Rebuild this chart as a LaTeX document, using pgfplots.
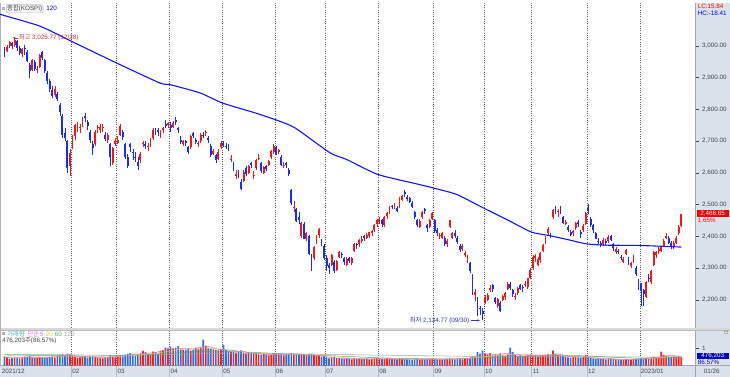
\documentclass[border=0pt]{standalone}
\usepackage{pgfplots}
\pgfplotsset{compat=1.18}
\usepackage{pgfplotstable}
\usetikzlibrary{arrows.meta}
\usepackage{fontspec}
\setmainfont{Liberation Sans}
\newfontfamily\kr{Noto Sans CJK KR}
\definecolor{upc}{RGB}{235,25,25}
\definecolor{dnc}{RGB}{25,45,235}
\definecolor{vup}{RGB}{235,35,35}
\definecolor{vdn}{RGB}{50,110,215}
\definecolor{strip}{RGB}{218,226,236}
\definecolor{gridc}{RGB}{95,95,95}
\definecolor{ma}{RGB}{20,20,235}
\definecolor{lbl}{RGB}{70,70,70}
\definecolor{hic}{RGB}{200,50,50}
\definecolor{loc}{RGB}{50,50,200}
\definecolor{m5}{RGB}{215,110,215}
\definecolor{m20}{RGB}{225,200,80}
\definecolor{m60}{RGB}{80,170,100}
\definecolor{m120}{RGB}{165,165,165}
\definecolor{vlc}{RGB}{70,170,190}

\pgfplotstableread{
i o h l c v
0 2992 2996 2965 2984 520
1 2985 3002 2980 2998 480
2 3000 3015 2995 3012 400
3 3010 3012 2990 3000 430
4 3002 3026 2998 3020 470
5 3015 3018 2985 2993 460
6 2995 3000 2970 2978 420
7 2975 2994 2965 2989 440
8 2992 3003 2971 2989 520
9 2980 2986 2948 2954 500
10 2940 2945 2900 2921 560
11 2925 2960 2920 2955 480
12 2950 2955 2920 2927 470
13 2925 2937 2915 2927 450
14 2935 2975 2930 2972 500
15 2980 2985 2955 2962 470
16 2955 2960 2915 2922 440
17 2915 2920 2880 2890 460
18 2890 2895 2855 2864 490
19 2860 2875 2835 2842 520
20 2845 2875 2840 2863 470
21 2850 2855 2825 2834 560
22 2815 2820 2780 2792 610
23 2780 2785 2710 2720 650
24 2725 2740 2700 2709 600
25 2700 2705 2600 2614 700
26 2620 2675 2591 2663 640
27 2680 2720 2675 2708 560
28 2715 2755 2705 2750 520
29 2745 2760 2730 2745 470
30 2740 2755 2725 2746 480
31 2755 2775 2745 2769 560
32 2780 2790 2760 2772 540
33 2760 2765 2735 2748 470
34 2730 2735 2695 2704 510
35 2690 2700 2655 2677 540
36 2690 2735 2685 2730 500
37 2740 2750 2725 2745 450
38 2735 2755 2725 2744 430
39 2740 2755 2730 2744 420
40 2720 2730 2700 2707 480
41 2705 2725 2695 2720 460
42 2690 2695 2620 2649 600
43 2630 2680 2625 2677 520
44 2690 2710 2685 2699 480
45 2695 2715 2690 2704 560
46 2720 2755 2715 2747 600
47 2730 2735 2705 2713 540
48 2690 2695 2645 2651 640
49 2650 2660 2615 2622 680
50 2690 2695 2665 2680 720
51 2665 2675 2640 2661 600
52 2650 2665 2635 2646 560
53 2635 2650 2610 2622 620
54 2640 2665 2630 2659 700
55 2690 2700 2680 2695 850
56 2690 2700 2675 2686 800
57 2680 2695 2670 2686 700
58 2690 2710 2680 2708 650
59 2710 2740 2705 2735 820
60 2735 2742 2720 2730 780
61 2735 2740 2715 2730 700
62 2720 2735 2710 2730 860
63 2735 2745 2725 2741 900
64 2755 2765 2740 2747 1050
65 2750 2760 2740 2758 1000
66 2752 2760 2730 2740 1100
67 2745 2762 2740 2758 1000
68 2765 2775 2750 2759 1050
69 2740 2745 2725 2735 1130
70 2705 2715 2690 2696 950
71 2690 2705 2685 2700 900
72 2700 2705 2685 2693 920
73 2680 2685 2660 2667 980
74 2680 2720 2675 2716 870
75 2725 2730 2710 2717 900
76 2705 2710 2690 2696 1040
77 2690 2700 2680 2693 950
78 2700 2725 2695 2719 1050
79 2720 2730 2710 2719 1500
80 2725 2735 2715 2728 1150
81 2710 2715 2695 2705 1050
82 2685 2690 2650 2657 980
83 2660 2675 2655 2668 950
84 2655 2660 2630 2639 900
85 2645 2675 2640 2667 880
86 2680 2700 2675 2695 900
87 2695 2700 2680 2687 1200
88 2685 2695 2675 2680 900
89 2680 2690 2670 2678 850
90 2640 2655 2635 2645 800
91 2630 2635 2605 2611 780
92 2590 2610 2580 2597 750
93 2600 2610 2585 2592 820
94 2570 2580 2546 2550 880
95 2575 2610 2570 2604 760
96 2615 2620 2590 2597 700
97 2600 2625 2595 2620 780
98 2630 2635 2615 2626 720
99 2590 2605 2580 2592 680
100 2615 2645 2610 2639 700
101 2645 2660 2640 2647 650
102 2630 2635 2600 2606 620
103 2600 2620 2595 2617 700
104 2620 2625 2605 2612 640
105 2625 2640 2620 2638 600
106 2650 2672 2645 2670 620
107 2665 2690 2660 2686 680
108 2680 2685 2655 2659 700
109 2665 2675 2660 2671 620
110 2650 2655 2620 2626 640
111 2620 2635 2615 2626 600
112 2630 2635 2615 2625 650
113 2610 2615 2590 2596 700
114 2545 2550 2500 2505 720
115 2490 2510 2475 2493 680
116 2485 2490 2445 2447 700
117 2460 2475 2440 2451 660
118 2400 2445 2395 2441 640
119 2440 2445 2390 2391 620
120 2390 2415 2385 2409 600
121 2400 2405 2340 2343 680
122 2335 2345 2290 2314 700
123 2330 2370 2325 2367 620
124 2380 2405 2375 2402 580
125 2405 2425 2395 2422 560
126 2385 2390 2370 2378 520
127 2370 2375 2325 2333 600
128 2330 2340 2290 2305 480
129 2310 2315 2280 2300 420
130 2310 2345 2305 2342 450
131 2320 2325 2285 2292 500
132 2295 2325 2290 2321 430
133 2335 2355 2330 2351 440
134 2345 2350 2330 2340 400
135 2330 2335 2310 2318 380
136 2310 2335 2305 2329 420
137 2330 2335 2315 2322 390
138 2315 2335 2310 2331 370
139 2355 2380 2350 2375 410
140 2375 2380 2360 2371 400
141 2375 2390 2365 2387 420
142 2385 2400 2380 2393 380
143 2400 2405 2385 2394 390
144 2395 2410 2390 2404 400
145 2400 2415 2395 2413 360
146 2410 2420 2400 2416 380
147 2420 2440 2415 2435 420
148 2440 2455 2430 2452 440
149 2445 2460 2440 2452 420
150 2450 2455 2430 2440 380
151 2435 2465 2430 2461 400
152 2465 2475 2455 2473 430
153 2475 2495 2470 2491 450
154 2497 2500 2485 2493 380
155 2490 2505 2485 2503 400
156 2490 2495 2475 2481 360
157 2490 2525 2488 2524 420
158 2515 2530 2510 2528 400
159 2540 2545 2525 2534 380
160 2525 2530 2510 2516 360
161 2520 2525 2505 2508 340
162 2505 2510 2490 2493 330
163 2475 2480 2455 2462 380
164 2450 2455 2430 2435 400
165 2430 2455 2425 2447 370
166 2460 2480 2455 2477 390
167 2485 2490 2470 2481 360
168 2435 2440 2415 2427 380
169 2430 2455 2425 2451 400
170 2455 2475 2450 2472 410
171 2450 2455 2410 2416 380
172 2420 2425 2400 2409 360
173 2400 2410 2390 2404 370
174 2395 2415 2390 2410 350
175 2395 2400 2370 2376 380
176 2375 2390 2365 2384 400
177 2430 2450 2425 2450 420
178 2395 2415 2390 2411 390
179 2410 2420 2395 2402 370
180 2395 2400 2375 2383 400
181 2370 2375 2350 2356 380
182 2360 2375 2355 2368 360
183 2340 2355 2335 2347 400
184 2325 2340 2315 2332 420
185 2315 2320 2285 2290 460
186 2275 2280 2215 2221 520
187 2215 2235 2195 2224 480
188 2205 2210 2150 2169 780
189 2175 2180 2151 2171 700
190 2165 2175 2135 2155 870
191 2190 2215 2185 2209 700
192 2200 2220 2195 2215 650
193 2230 2245 2225 2238 720
194 2245 2250 2225 2233 600
195 2205 2210 2185 2192 640
196 2180 2205 2175 2202 620
197 2190 2195 2160 2163 700
198 2200 2215 2195 2213 600
199 2210 2225 2200 2220 580
200 2235 2255 2230 2250 640
201 2250 2255 2230 2237 1040
202 2230 2235 2210 2218 800
203 2210 2220 2200 2213 620
204 2220 2240 2215 2236 560
205 2245 2250 2230 2235 600
206 2240 2245 2225 2236 540
207 2245 2260 2240 2251 560
208 2240 2270 2235 2268 600
209 2270 2300 2265 2294 650
210 2300 2340 2295 2335 600
211 2330 2345 2320 2337 560
212 2310 2335 2305 2329 520
213 2325 2350 2315 2348 580
214 2355 2375 2350 2372 600
215 2380 2400 2375 2399 620
216 2410 2430 2405 2424 650
217 2405 2410 2395 2402 560
218 2460 2485 2455 2483 870
219 2490 2495 2470 2475 700
220 2475 2485 2460 2480 620
221 2490 2495 2470 2477 580
222 2460 2465 2440 2443 560
223 2440 2450 2435 2444 500
224 2430 2435 2415 2420 480
225 2415 2420 2400 2405 460
226 2410 2420 2400 2417 500
227 2425 2445 2420 2441 520
228 2445 2450 2430 2438 480
229 2415 2420 2395 2408 460
230 2420 2440 2415 2433 500
231 2440 2475 2435 2473 620
232 2490 2501 2470 2480 480
233 2455 2460 2430 2434 440
234 2435 2440 2410 2419 420
235 2410 2415 2390 2393 400
236 2385 2395 2375 2383 430
237 2380 2385 2365 2371 400
238 2375 2395 2370 2389 380
239 2385 2390 2370 2380 360
240 2385 2405 2380 2399 400
241 2400 2405 2385 2389 420
242 2375 2380 2355 2362 380
243 2350 2365 2345 2360 360
244 2355 2360 2345 2352 340
245 2335 2340 2325 2333 320
246 2320 2335 2315 2328 330
247 2345 2360 2340 2357 380
248 2330 2335 2310 2314 350
249 2305 2320 2300 2317 340
250 2320 2340 2315 2333 380
251 2300 2305 2275 2280 400
252 2260 2265 2230 2236 420
253 2250 2254 2181 2226 420
254 2230 2235 2180 2219 400
255 2210 2260 2205 2256 440
256 2270 2280 2255 2265 430
257 2255 2295 2250 2290 460
258 2310 2355 2305 2350 520
259 2340 2355 2330 2351 500
260 2355 2365 2345 2360 480
261 2355 2370 2350 2365 820
262 2370 2390 2365 2386 620
263 2395 2410 2390 2400 560
264 2395 2400 2375 2379 520
265 2380 2385 2360 2368 500
266 2365 2385 2360 2380 540
267 2380 2400 2375 2395 520
268 2410 2435 2405 2429 560
269 2432 2470 2430 2469 476
}\kospi

\pgfplotstableread{
i m
-1.7 3100
-1.0 3098
14.2 3062
26.5 3015
44.6 2946
61.8 2883
65.8 2878
77.7 2852
86.6 2820
99.6 2789
107.5 2768
115.4 2742
129.4 2663
136 2642
148.3 2595
162.3 2568
170.1 2553
179.7 2532
188.9 2495
200.8 2448
209.5 2413
216.7 2402
224.7 2388
231.3 2376
239.2 2372
252.5 2371
269 2366
}\maline

\pgfplotstableread{
i a b c d
0 470 520 620 650
5 450 500 610 650
10 500 510 600 645
15 470 500 590 640
20 500 520 580 635
25 640 560 570 630
30 520 540 560 620
35 500 520 555 610
40 450 500 560 600
45 540 520 570 600
50 620 600 600 610
55 700 640 630 620
60 760 720 660 630
65 950 820 700 640
70 1000 940 760 660
75 950 1000 800 680
80 1150 1020 830 700
85 950 960 840 710
90 900 880 830 715
95 800 800 800 715
100 700 720 760 710
105 640 680 730 700
110 640 660 690 690
115 680 650 660 680
120 620 640 630 670
125 600 620 600 660
130 460 540 570 650
135 410 460 540 640
140 400 410 510 630
145 390 400 480 620
150 400 395 450 610
155 400 390 430 600
160 370 385 410 590
165 380 380 400 580
170 390 385 395 570
175 380 385 395 560
180 390 390 400 550
185 430 420 420 540
190 700 500 450 535
195 650 580 480 530
200 720 640 510 530
205 620 660 540 530
210 580 620 560 530
215 600 620 580 530
220 680 630 590 530
225 520 580 590 530
230 490 520 570 525
235 430 460 540 520
240 390 420 500 515
245 350 380 470 510
250 360 370 440 505
255 420 400 430 500
260 500 450 440 500
265 600 520 450 500
269 530 540 460 500
}\volma

\newcommand{\sz}{\fontsize{6.3}{7}\selectfont}
\pgfplotsset{
  candle/.style 2 args={draw=none, mark=none, forget plot,
    error bars/y dir=plus, error bars/y explicit, error bars/error mark=none,
    error bars/error bar style={draw=#1, line width=#2, solid}},
}

\begin{document}
\begin{tikzpicture}[x=1pt,y=1pt]
\fill[white] (0,0) rectangle (730,374);
\fill[strip] (696,0) rectangle (730,374);
\fill[strip] (0,0) rectangle (730,11);
\draw[gray!70, line width=0.4pt] (696,0) -- (696,374);
\draw[gray!70, line width=0.4pt] (0,11) -- (730,11);
\fill[gray!30] (0,46) rectangle (730,48.6);
\draw[gray!55, line width=0.5pt] (0,46) -- (730,46);
\draw[gray!60, line width=0.5pt] (0.25,11) -- (0.25,374);

\begin{axis}[
  at={(0pt,49pt)}, anchor=south west, scale only axis,
  width=696pt, height=325pt,
  xmin=-1.708, xmax=274.7, ymin=2111.8, ymax=3135.4,
  axis line style={draw=none},
  xtick={26.5,44.5,65.5,86.5,107.5,127.5,148.5,170.5,190.5,209.5,231.5,252.5},
  xticklabels={},
  major x tick style={draw=none},
  xmajorgrids,
  grid style={gridc, dash pattern=on 1pt off 1.3pt, line width=0.45pt},
  ytick={2200,2300,...,3000},
  ytick pos=right, yticklabel pos=right,
  tick align=outside, major tick length=3pt,
  major y tick style={lbl, line width=0.4pt},
  yticklabel style={font=\sz, text=lbl, /pgf/number format/fixed, /pgf/number format/fixed zerofill, /pgf/number format/precision=2, /pgf/number format/1000 sep={,}, /pgf/number format/assume math mode=true},
  unbounded coords=discard,
]
\addplot[candle={upc}{0.7pt}]
  table[x=i, y expr={\thisrow{c}>=\thisrow{o} ? \thisrow{l} : nan}, y error plus expr={\thisrow{h}-\thisrow{l}}] {\kospi};
\addplot[candle={dnc}{0.7pt}]
  table[x=i, y expr={\thisrow{c}<\thisrow{o} ? \thisrow{l} : nan}, y error plus expr={\thisrow{h}-\thisrow{l}}] {\kospi};
\addplot[candle={upc}{1.9pt}]
  table[x=i, y expr={\thisrow{c}>=\thisrow{o} ? \thisrow{o} : nan}, y error plus expr={\thisrow{c}-\thisrow{o}}] {\kospi};
\addplot[candle={dnc}{1.9pt}]
  table[x=i, y expr={\thisrow{c}<\thisrow{o} ? \thisrow{c} : nan}, y error plus expr={\thisrow{o}-\thisrow{c}}] {\kospi};
\addplot[ma, line width=1.1pt, mark=none, smooth, tension=0.35] table[x=i, y=m] {\maline};

\node[anchor=west, font=\sz, text=hic, inner sep=0pt] at (axis cs:5.6,3025.77) {{\kr 최고} 3,025.77 (12/28)};
\draw[-{Stealth[length=2.5pt,width=2.5pt]}, hic, line width=0.5pt] (axis cs:5.4,3025.77) -- (axis cs:3.4,3025.77);
\node[anchor=east, font=\sz, text=loc, inner sep=0pt] at (axis cs:184.8,2134.77) {{\kr 최저} 2,134.77 (09/30)};
\draw[-{Stealth[length=2.5pt,width=2.5pt]}, loc, line width=0.5pt] (axis cs:185.3,2134.77) -- (axis cs:188.9,2134.77);
\end{axis}

\begin{axis}[
  at={(0pt,11pt)}, anchor=south west, scale only axis,
  width=696pt, height=35pt,
  xmin=-1.708, xmax=274.7, ymin=0, ymax=2023,
  axis line style={draw=none},
  xtick={26.5,44.5,65.5,86.5,107.5,127.5,148.5,170.5,190.5,209.5,231.5,252.5},
  xticklabels={},
  major x tick style={draw=none},
  xmajorgrids,
  grid style={gridc, dash pattern=on 1pt off 1.3pt, line width=0.45pt},
  ytick={1000}, yticklabels={{1,000K}},
  ytick pos=right, yticklabel pos=right,
  tick align=outside, major tick length=3pt,
  major y tick style={lbl, line width=0.4pt},
  yticklabel style={font=\sz, text=lbl},
  unbounded coords=discard,
]
\addplot[ybar, bar width=1.7pt, bar shift=0pt, fill=vup, draw=none, forget plot]
  table[x=i, y expr={\thisrow{c}>=\thisrow{o} ? \thisrow{v} : nan}] {\kospi};
\addplot[ybar, bar width=1.7pt, bar shift=0pt, fill=vdn, draw=none, forget plot]
  table[x=i, y expr={\thisrow{c}<\thisrow{o} ? \thisrow{v} : nan}] {\kospi};
\addplot[m120, line width=0.5pt, mark=none] table[x=i, y=d] {\volma};
\addplot[m60, line width=0.5pt, mark=none] table[x=i, y=c] {\volma};
\addplot[m20, line width=0.5pt, mark=none] table[x=i, y=b] {\volma};
\addplot[m5, line width=0.5pt, mark=none] table[x=i, y=a] {\volma};
\end{axis}

% top-left legend
\fill[gray!60] (1.5,366.8) rectangle (4.5,369.8);
\node[draw=gray!55, fill=gray!8, rounded corners=1pt, inner sep=0.8pt, anchor=west, font=\sz, text=lbl] at (6,368.3) {{\kr 종합}(KOSPI)};
\node[anchor=west, font=\sz, text=blue!80!black, inner sep=0pt] at (46,368.3) {120};
% LC / HC
\node[anchor=west, font=\sz, text=red, inner sep=0pt] at (698,370.5) {LC:15.84};
\node[anchor=west, font=\sz, text=blue, inner sep=0pt] at (698,364) {HC:-18.41};
% current price box
\fill[red!95!black] (697,159.8) rectangle (729.5,166.5);
\node[font=\sz, text=white, inner sep=0pt] at (713,163.1) {2,468.65};
\node[anchor=west, font=\sz, text=red, inner sep=0pt] at (698,156.5) {1.65\%};
% volume legend
\fill[gray!60] (1.5,41.5) rectangle (4.5,44.5);
\node[anchor=west, font=\sz, inner sep=0pt] at (7,43) {{\kr\color{vlc}거래량}\, {\kr\color{m5}단순}\,{\color{m5}5}\,\,{\color{m20}20}\,\,{\color{m60}60}\,\,{\color{m120}120}};
\node[anchor=west, font=\sz, text=lbl, inner sep=0pt] at (2,36.3) {476,203{\kr 주}(86.57\%)};
\fill[gray!65] (724.5,42.8) rectangle (728.5,46.5);
\draw[white, line width=0.4pt] (725.3,44.6) -- (727.7,44.6);
% volume value box
\fill[blue!75!black] (697,18) rectangle (729.5,23.6);
\node[font=\sz, text=white, inner sep=0pt] at (713,20.8) {476,203};
\node[anchor=west, font=\sz, text=blue!70!black, inner sep=0pt] at (698,14.2) {86.57\%};
% date strip
\foreach \xx in {71.0,116.4,169.2,222.1,275.0,325.3,378.2,433.6,484.0,531.8,587.2,640.1}{
  \draw[gray!55, line width=0.4pt] (\xx,0) -- (\xx,11);
}
\node[anchor=west, font=\sz, text=lbl, inner sep=0pt] at (1.5,5.5) {2021/12};
\node[anchor=west, font=\sz, text=lbl, inner sep=0pt] at (72,5.5) {02};
\node[anchor=west, font=\sz, text=lbl, inner sep=0pt] at (117.4,5.5) {03};
\node[anchor=west, font=\sz, text=lbl, inner sep=0pt] at (170.2,5.5) {04};
\node[anchor=west, font=\sz, text=lbl, inner sep=0pt] at (223.1,5.5) {05};
\node[anchor=west, font=\sz, text=lbl, inner sep=0pt] at (276.0,5.5) {06};
\node[anchor=west, font=\sz, text=lbl, inner sep=0pt] at (326.3,5.5) {07};
\node[anchor=west, font=\sz, text=lbl, inner sep=0pt] at (379.2,5.5) {08};
\node[anchor=west, font=\sz, text=lbl, inner sep=0pt] at (434.6,5.5) {09};
\node[anchor=west, font=\sz, text=lbl, inner sep=0pt] at (485.0,5.5) {10};
\node[anchor=west, font=\sz, text=lbl, inner sep=0pt] at (532.8,5.5) {11};
\node[anchor=west, font=\sz, text=lbl, inner sep=0pt] at (588.2,5.5) {12};
\node[anchor=west, font=\sz, text=lbl, inner sep=0pt] at (641.1,5.5) {2023/01};
\node[anchor=west, font=\sz, text=lbl, inner sep=0pt] at (704,5.5) {01/26};
\end{tikzpicture}
\end{document}
